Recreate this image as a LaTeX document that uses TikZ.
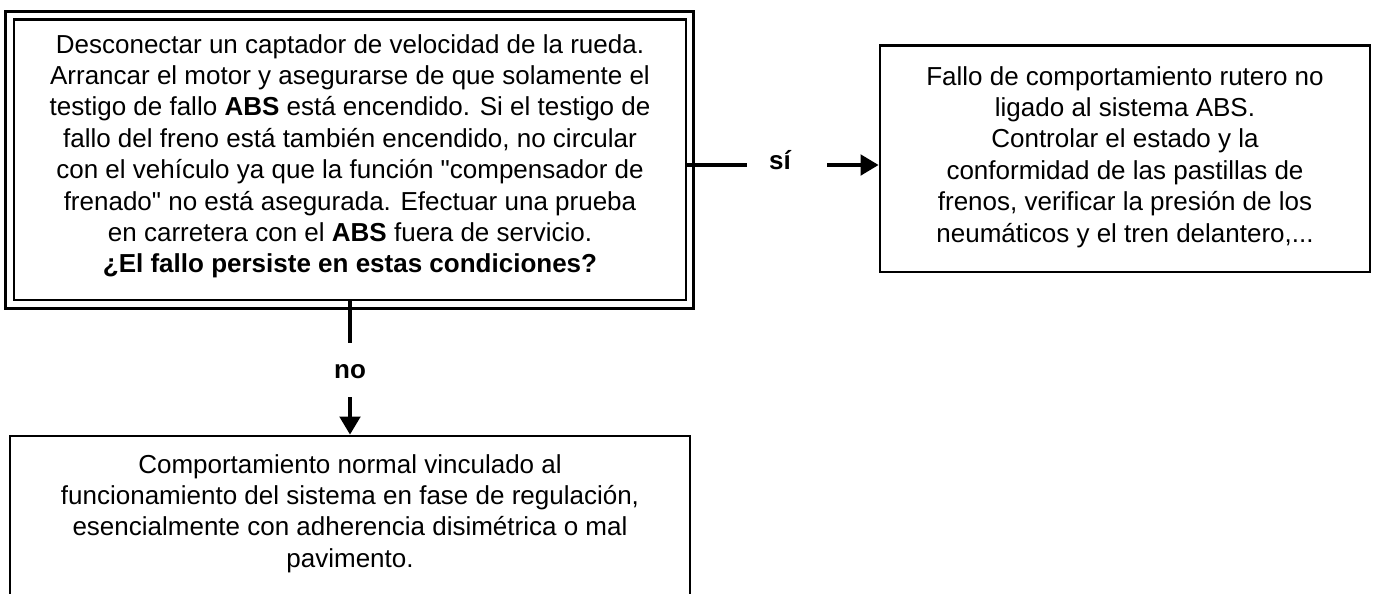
\documentclass[tikz,border=0pt]{standalone}
\usepackage{fontspec}
\setmainfont{Liberation Sans}[Ligatures=TeXOff]
\usetikzlibrary{arrows.meta}
\begin{document}
\begin{tikzpicture}[x=0.75pt,y=-0.75pt,
  frame/.style={draw, line width=2.2pt, inner sep=0pt, outer sep=1.1pt},
  txt/.style={inner sep=0pt, align=center, anchor=north, font=\fontsize{19.5pt}{23.55pt}\selectfont},
  lab/.style={inner sep=0pt, anchor=base, font=\fontsize{19.5pt}{23.55pt}\selectfont\bfseries},
  conn/.style={line width=2.4pt},
  arr/.style={conn, -{Triangle[length=13.5pt,width=15.5pt]}}]
\useasboundingbox (0,0) rectangle (1377,593);
\clip (0,0) rectangle (1377,593);
% question box (double frame)
\node[frame, minimum width=504pt, minimum height=210.4pt] (q) at (350,159.75) {};
\node[frame, minimum width=516.15pt, minimum height=222.9pt] (qo) at (349.4,159.9) {};
\node[txt] (qt) at (350,34) {Desconectar un captador de velocidad de la rueda.\\
Arrancar el motor y asegurarse de que solamente el\\
testigo de fallo \textbf{ABS} está encendido. Si el testigo de\\
fallo del freno está también encendido, no circular\\
con el vehículo ya que la función "compensador de\\
frenado" no está asegurada. Efectuar una prueba\\
en carretera con el \textbf{ABS} fuera de servicio.\\
\textbf{¿El fallo persiste en estas condiciones?}};
% right box
\node[frame, minimum width=367.5pt, minimum height=169.9pt] (r) at (1125,158.75) {};
\node[txt] (rt) at (1125,66) {Fallo de comportamiento rutero no\\
ligado al sistema ABS.\\
Controlar el estado y la\\
conformidad de las pastillas de\\
frenos, verificar la presión de los\\
neumáticos y el tren delantero,...};
% bottom box (open at the bottom)
\node[inner sep=0pt, outer sep=0pt, minimum width=510pt, minimum height=153pt] (c) at (350,538) {};
\draw[line width=2.2pt] (c.south west) -- (c.north west) -- (c.north east) -- (c.south east);
\node[txt] (ct) at (350,454) {Comportamiento normal vinculado al\\
funcionamiento del sistema en fase de regulación,\\
esencialmente con adherencia disimétrica o mal\\
pavimento.};
% yes connector
\node[lab] (yes) at (780,169) {sí};
\coordinate (ya) at (747,165);
\coordinate (yb) at (827,165);
\draw[conn] (q.east |- ya) -- (ya);
\draw[arr] (yb) -- (r.west |- yb);
% no connector
\node[lab] (no) at (350,378) {no};
\coordinate (na) at (350,343);
\coordinate (nb) at (350,397);
\draw[conn] (q.south) -- (na);
\draw[arr, shorten >=1.1pt] (nb) -- (c.north);
\end{tikzpicture}
\end{document}
